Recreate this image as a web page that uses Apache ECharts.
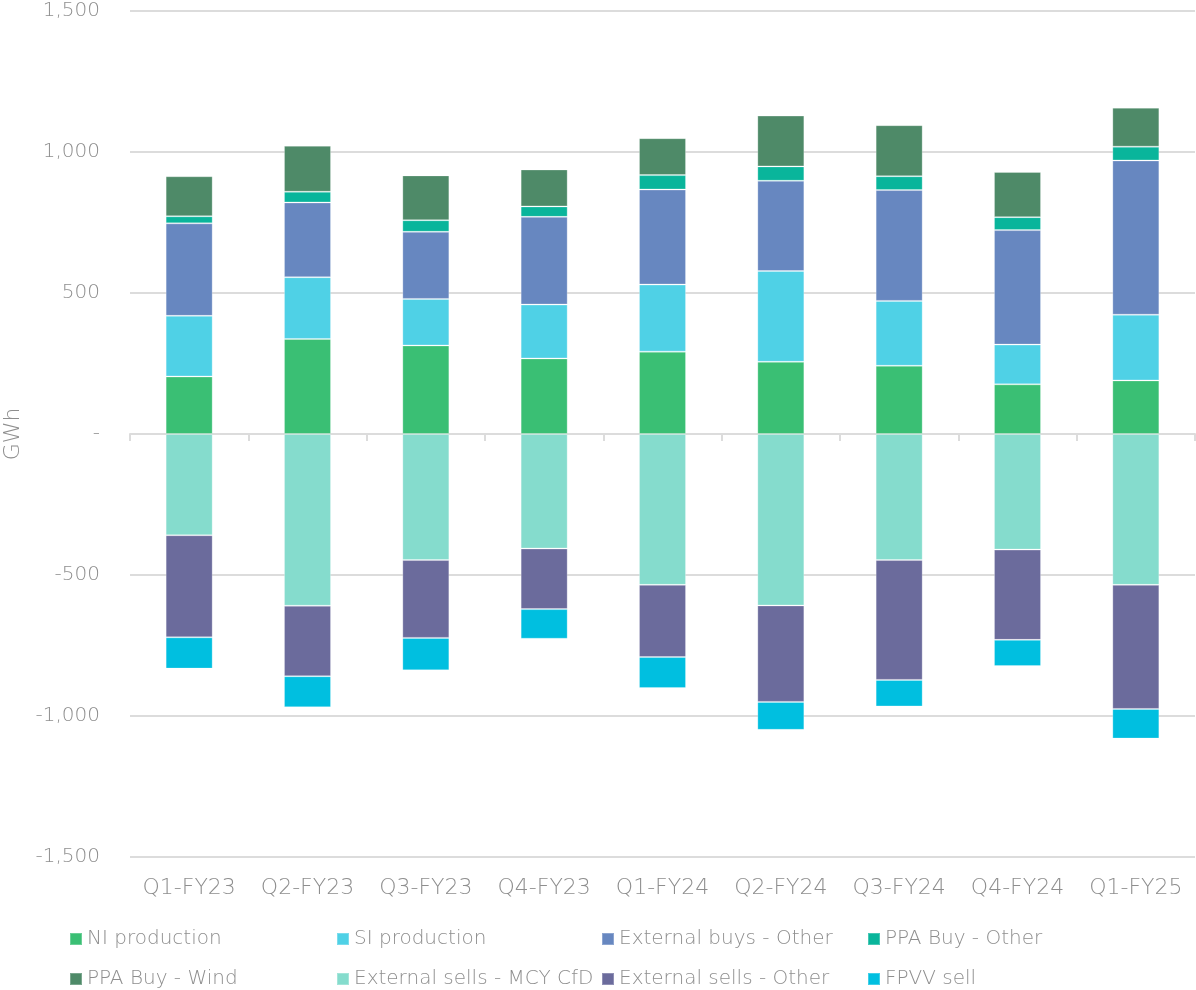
<!doctype html>
<html lang="en">
  <head>
    <meta charset="utf-8">
    <title>Energy volumes by quarter</title>
    <script src="https://cdn.jsdelivr.net/npm/echarts@6/dist/echarts.min.js"></script>
    <style>
      html, body { margin: 0; padding: 0; background: #fff; }
      #chart { width: 1196px; height: 990px; }
    </style>
  </head>
  <body>
    <div id="chart"></div>

  <script>
    // data (GWh)
    var quarters = ['Q1-FY23', 'Q2-FY23', 'Q3-FY23', 'Q4-FY23', 'Q1-FY24', 'Q2-FY24', 'Q3-FY24', 'Q4-FY24', 'Q1-FY25'];

    var niProduction      = [204, 337, 314, 268, 292, 256, 242, 176, 190];
    var siProduction      = [215, 219, 165, 191, 238, 322, 230, 141, 233];
    var externalBuysOther = [328, 265, 238, 311, 337, 320, 393, 406, 547];
    var ppaBuyOther       = [25, 38, 41, 37, 51, 51, 49, 46, 49];
    var ppaBuyWind        = [142, 163, 159, 131, 131, 180, 181, 160, 138];
    var extSellsMcyCfd    = [-359, -609, -447, -406, -535, -608, -447, -410, -535];
    var extSellsOther     = [-362, -250, -276, -215, -256, -342, -425, -320, -440];
    var fpvvSell          = [-111, -110, -115, -105, -110, -99, -94, -93, -105];

    var seriesNames = ['NI production', 'SI production', 'External buys - Other', 'PPA Buy - Other',
                       'PPA Buy - Wind', 'External sells - MCY CfD', 'External sells - Other', 'FPVV sell'];
    var seriesData = [niProduction, siProduction, externalBuysOther, ppaBuyOther,
                      ppaBuyWind, extSellsMcyCfd, extSellsOther, fpvvSell];
    var colors = ['#3abf74', '#4fd1e6', '#6787c0', '#09b59b', '#4e8a68', '#85dccd', '#6b6b9c', '#00bfe0'];

    var font = '"DejaVu Sans", sans-serif';
    var textGray = '#8e8e8e';

    var series = [];
    for (var i = 0; i < seriesNames.length; i++) {
      series.push({
        name: seriesNames[i],
        type: 'bar',
        stack: 'total',
        barWidth: 47,
        xAxisIndex: 0,
        itemStyle: { color: colors[i], borderColor: 'rgba(255,255,255,0.25)', borderWidth: 1 },
        data: seriesData[i]
      });
    }

    // legend: 4 columns x 2 rows, one legend per entry so the columns line up
    var legendLeft = [69, 336, 601, 867];
    var legendTop = [929, 969];
    var legends = [];
    for (var k = 0; k < seriesNames.length; k++) {
      legends.push({
        left: legendLeft[k % 4],
        top: legendTop[Math.floor(k / 4)],
        padding: 0,
        itemWidth: 12,
        itemHeight: 12,
        icon: 'rect',
        selectedMode: false,
        textStyle: { fontFamily: font, fontWeight: 200, fontSize: 20, color: textGray },
        data: [seriesNames[k]]
      });
    }

    var chart = echarts.init(document.getElementById('chart'), null, { renderer: 'canvas' });

    var option = {
      animation: false,
      grid: { left: 130, right: 1, top: 11, bottom: 133, outerBoundsMode: 'none' },
      legend: legends,
      xAxis: [
        {
          // labels along the bottom
          type: 'category',
          data: quarters,
          position: 'bottom',
          axisLine: { show: false, onZero: false },
          axisTick: { show: false },
          axisLabel: { interval: 0, margin: 20, fontFamily: font, fontWeight: 200, fontSize: 22, color: textGray }
        },
        {
          // axis line and ticks at zero
          type: 'category',
          data: quarters,
          position: 'bottom',
          axisLine: { show: true, onZero: true, lineStyle: { color: '#dcdcdc', width: 2 } },
          axisTick: { show: true, interval: 0, length: 7, lineStyle: { color: '#dcdcdc', width: 2 } },
          axisLabel: { show: false, interval: 0 }
        }
      ],
      yAxis: {
        type: 'value',
        min: -1500,
        max: 1500,
        interval: 500,
        name: 'GWh',
        nameLocation: 'middle',
        nameGap: 102,
        nameTextStyle: { fontFamily: font, fontWeight: 200, fontSize: 22, color: textGray },
        axisLine: { show: false },
        axisTick: { show: false },
        axisLabel: {
          margin: 30,
          fontFamily: font, fontWeight: 200, fontSize: 20, color: textGray,
          formatter: function (v) {
            if (v === 0) return '-';
            return v.toLocaleString('en-US');
          }
        },
        splitLine: { lineStyle: { color: '#dcdcdc', width: 2 } }
      },
      series: series
    };

    chart.setOption(option);
  </script>
  </body>
</html>
